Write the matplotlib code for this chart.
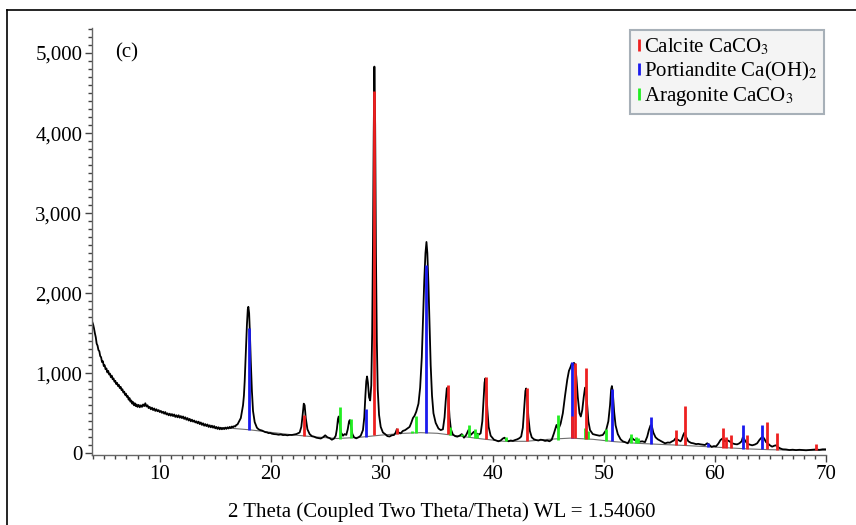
import matplotlib
matplotlib.use("Agg")
import matplotlib.pyplot as plt
from matplotlib.lines import Line2D
from matplotlib.ticker import MultipleLocator, FuncFormatter

plt.rcParams['font.family'] = ['Liberation Serif', 'DejaVu Serif']
plt.rcParams['mathtext.fontset'] = 'stix'

two_theta = [
    3.9, 4.0, 4.08, 4.16, 4.24, 4.32, 4.4, 4.48, 4.56, 4.64, 4.72, 4.8, 4.88, 4.96,
    5.04, 5.12, 5.2, 5.28, 5.36, 5.44, 5.52, 5.6, 5.68, 5.76, 5.84, 5.92, 6.0, 6.08,
    6.16, 6.24, 6.32, 6.4, 6.48, 6.56, 6.64, 6.72, 6.8, 6.88, 6.96, 7.04, 7.12, 7.2,
    7.28, 7.36, 7.44, 7.52, 7.6, 7.68, 7.76, 7.84, 7.92, 8.0, 8.1, 8.2, 8.3, 8.4,
    8.5, 8.6, 8.7, 8.8, 8.9, 9.0, 9.1, 9.2, 9.3, 9.4, 9.5, 9.6, 9.7, 9.8, 9.9, 10.0,
    10.1, 10.2, 10.3, 10.4, 10.5, 10.6, 10.7, 10.8, 10.9, 11.0, 11.1, 11.2, 11.3,
    11.4, 11.5, 11.6, 11.7, 11.8, 11.9, 12.0, 12.1, 12.2, 12.3, 12.4, 12.5, 12.6,
    12.7, 12.8, 12.9, 13.0, 13.1, 13.2, 13.3, 13.4, 13.5, 13.6, 13.7, 13.8, 13.9,
    14.0, 14.1, 14.2, 14.3, 14.4, 14.5, 14.6, 14.7, 14.8, 14.9, 15.0, 15.1, 15.2,
    15.3, 15.4, 15.5, 15.6, 15.7, 15.8, 15.9, 16.0, 16.1, 16.2, 16.3, 16.4, 16.5,
    16.6, 16.7, 16.8, 16.9, 17.0, 17.15, 17.3, 17.4, 17.5, 17.58, 17.65, 17.75,
    17.85, 17.93, 17.98, 18.05, 18.12, 18.2, 18.3, 18.4, 18.55, 18.75, 18.9, 19.05,
    19.2, 19.35, 19.5, 19.65, 19.8, 19.95, 20.1, 20.3, 20.5, 20.7, 20.9, 21.1, 21.3,
    21.5, 21.7, 21.9, 22.1, 22.3, 22.45, 22.6, 22.75, 22.87, 22.97, 23.05, 23.15,
    23.3, 23.5, 23.7, 23.9, 24.1, 24.3, 24.5, 24.7, 24.9, 25.1, 25.3, 25.5, 25.7,
    25.85, 25.95, 26.05, 26.12, 26.2, 26.32, 26.5, 26.65, 26.8, 26.93, 27.05, 27.12,
    27.22, 27.35, 27.5, 27.7, 27.9, 28.1, 28.3, 28.42, 28.52, 28.6, 28.67, 28.75,
    28.85, 28.95, 29.05, 29.13, 29.2, 29.27, 29.33, 29.4, 29.47, 29.55, 29.63, 29.75,
    29.9, 30.1, 30.3, 30.5, 30.7, 30.9, 31.1, 31.25, 31.35, 31.5, 31.7, 31.9, 32.1,
    32.3, 32.5, 32.65, 32.8, 32.95, 33.1, 33.3, 33.45, 33.6, 33.72, 33.82, 33.93,
    34.02, 34.1, 34.2, 34.3, 34.4, 34.52, 34.65, 34.85, 35.1, 35.3, 35.5, 35.65,
    35.75, 35.85, 35.92, 36.0, 36.1, 36.22, 36.4, 36.6, 36.8, 37.0, 37.2, 37.4, 37.6,
    37.8, 38.0, 38.15, 38.3, 38.45, 38.6, 38.75, 38.9, 39.05, 39.15, 39.25, 39.32,
    39.4, 39.5, 39.62, 39.8, 40.1, 40.3, 40.5, 40.7, 40.9, 41.05, 41.2, 41.4, 41.6,
    41.8, 42.0, 42.2, 42.4, 42.55, 42.7, 42.82, 42.93, 43.0, 43.08, 43.2, 43.33,
    43.5, 43.7, 43.9, 44.1, 44.3, 44.5, 44.7, 44.9, 45.1, 45.3, 45.5, 45.73, 45.9,
    46.1, 46.3, 46.5, 46.7, 46.85, 47.0, 47.1, 47.2, 47.3, 47.4, 47.52, 47.65, 47.8,
    47.92, 48.05, 48.18, 48.3, 48.38, 48.48, 48.6, 48.75, 49.0, 49.3, 49.6, 49.9,
    50.2, 50.4, 50.55, 50.65, 50.72, 50.8, 50.92, 51.05, 51.25, 51.5, 51.7, 51.9,
    52.15, 52.45, 52.7, 52.9, 53.2, 53.45, 53.7, 53.9, 54.05, 54.2, 54.3, 54.45,
    54.65, 54.85, 55.05, 55.3, 55.5, 55.75, 55.95, 56.15, 56.3, 56.45, 56.6, 56.9,
    57.0, 57.15, 57.25, 57.38, 57.6, 57.85, 58.05, 58.3, 58.5, 58.7, 58.9, 59.1,
    59.3, 59.45, 59.7, 59.9, 60.1, 60.3, 60.5, 60.7, 60.9, 61.1, 61.3, 61.55, 61.8,
    62.0, 62.2, 62.4, 62.5, 62.6, 62.75, 62.9, 63.1, 63.35, 63.6, 63.8, 64.0, 64.15,
    64.3, 64.45, 64.6, 64.75, 64.95, 65.15, 65.35, 65.5, 65.7, 65.9, 66.1, 66.4,
    66.7, 67.0, 67.3, 67.6, 67.9, 68.2, 68.5, 68.8, 69.1, 69.4, 69.7, 70.0]
counts = [
    1650, 1610, 1560, 1500, 1450, 1370, 1345, 1290, 1275, 1215, 1200, 1140, 1150, 1090,
    1100, 1050, 1060, 1010, 1030, 985, 995, 950, 970, 925, 935, 895, 905, 865,
    880, 840, 855, 815, 830, 790, 800, 760, 770, 730, 745, 705, 715, 670,
    690, 645, 660, 620, 640, 600, 625, 590, 610, 580, 605, 575, 600, 580,
    610, 590, 625, 585, 600, 565, 580, 550, 570, 540, 560, 530, 550, 525, 540, 515,
    530, 505, 520, 495, 515, 485, 500, 475, 495, 470, 490, 465, 485,
    455, 475, 450, 475, 445, 465, 440, 460, 430, 450, 420, 440, 410,
    430, 400, 420, 395, 410, 385, 400, 375, 395, 365, 385, 355, 375,
    345, 365, 340, 360, 330, 350, 325, 345, 320, 340, 312, 330, 305,
    325, 300, 320, 300, 318, 302, 322, 305, 325, 310, 330, 315, 335,
    325, 340, 335, 355, 360, 400, 440, 520, 600, 720, 900, 1250,
    1600, 1800, 1830, 1750, 1500, 1150, 780, 530, 390, 320, 300, 290,
    285, 275, 265, 262, 252, 255, 245, 240, 238, 232, 236, 228, 230,
    225, 230, 229, 235, 240, 250, 260, 330, 480, 620, 600, 440,
    300, 240, 215, 208, 195, 190, 185, 200, 225, 200, 190, 170, 185,
    220, 300, 430, 460, 380, 260, 220, 240, 230, 300, 400, 415,
    350, 240, 200, 187, 200, 220, 290, 450, 720, 900, 960, 880,
    700, 660, 850, 1500, 2600, 4000, 4830, 4100, 2500, 1400, 800, 480,
    330, 260, 240, 215, 210, 225, 229, 260, 300, 260, 250, 280, 290,
    310, 330, 380, 440, 470, 520, 620, 820, 1200, 1700, 2150, 2500,
    2640, 2500, 2100, 1600, 1100, 720, 500, 380, 310, 290, 300, 450,
    650, 810, 820, 680, 450, 300, 235, 215, 208, 220, 240, 195, 230,
    290, 229, 250, 270, 230, 245, 235, 250, 400, 650, 880, 935,
    820, 550, 330, 220, 170, 160, 150, 160, 185, 195, 170, 150, 160,
    155, 166, 175, 190, 210, 320, 550, 780, 810, 700, 450, 280,
    200, 175, 166, 160, 170, 166, 155, 160, 150, 170, 250, 354, 300,
    370, 500, 720, 920, 1030, 1080, 1120, 1100, 1130, 1110, 950, 700, 500,
    460, 540, 700, 820, 820, 620, 400, 290, 240, 229, 220, 229,
    290, 400, 600, 800, 840, 760, 520, 350, 240, 175, 150, 140,
    125, 200, 170, 160, 145, 150, 140, 208, 290, 350, 350, 260,
    200, 175, 160, 140, 125, 135, 133, 150, 160, 187, 175, 150,
    170, 230, 258, 210, 150, 130, 125, 115, 118, 112, 108, 104,
    125, 110, 80, 90, 87, 120, 166, 187, 150, 165, 150, 125, 115,
    112, 125, 150, 195, 185, 150, 125, 110, 100, 110, 125, 166, 190,
    208, 180, 140, 125, 100, 83, 95, 100, 75, 60, 50, 48,
    41, 45, 40, 44, 41, 38, 42, 45, 48, 43, 50, 50]

# fitted background
bg_theta = [15.0, 16.5, 18.0, 19.0, 20.0, 22.0, 24.0, 26.0, 28.0, 30.0, 32.0, 33.5,
            35.0, 37.0, 39.0, 41.0, 43.0, 45.0, 47.0, 49.0, 51.0, 53.0, 55.0, 57.0,
            59.0, 61.0, 63.0, 65.0, 67.0, 70.0]
bg_counts = [320, 312, 295, 279, 262, 230, 205, 185, 200, 228, 250, 258,
             250, 215, 180, 150, 150, 175, 190, 175, 145, 125, 112, 100,
             85, 70, 55, 45, 40, 38]

# reference sticks: position, base, top
calcite_pos = [23.02, 29.33, 31.4, 35.92, 39.35, 43.05, 47.1, 47.42, 48.42, 56.5,
               57.3, 60.7, 61.0, 61.4, 62.9, 64.65, 65.6, 69.1]
calcite_base = [215, 228, 245, 245, 180, 150, 190, 190, 180, 100,
                100, 70, 70, 68, 58, 48, 45, 38]
calcite_top = [480, 4520, 315, 850, 950, 815, 460, 1125, 1070, 290,
               590, 320, 210, 230, 230, 385, 258, 116]

portl_pos = [18.0, 28.6, 34.02, 47.1, 50.72, 54.25, 59.35, 62.55, 64.2]
portl_base = [295, 210, 255, 190, 150, 115, 85, 58, 48]
portl_top = [1560, 554, 2354, 1137, 800, 450, 130, 354, 354]

arag_pos = [26.2, 27.2, 32.75, 33.1, 36.15, 37.2, 37.85, 38.35, 38.55, 41.15,
            45.85, 48.3, 48.55, 50.2, 52.45, 52.9, 53.1]
arag_base = [185, 190, 252, 255, 235, 215, 205, 195, 190, 150,
             170, 182, 180, 150, 130, 126, 125]
arag_top = [583, 425, 280, 460, 330, 240, 354, 300, 260, 200,
            480, 312, 280, 300, 237, 200, 195]

fig = plt.figure(figsize=(8.56, 5.25), dpi=100)
ax = fig.add_axes([92/856, 1-455/525, (826-92)/856, (455-28)/525])

ax.plot(bg_theta, bg_counts, color='#6e6e6e', lw=0.8, zorder=1)
ax.plot(two_theta, counts, color='black', lw=1.3, zorder=2)
# sticks are drawn over the pattern
ax.vlines(arag_pos, arag_base, arag_top, color='#22ee22', lw=2, zorder=3)
ax.vlines(portl_pos, portl_base, portl_top, color='#1a1aee', lw=2, zorder=3)
ax.vlines(calcite_pos, calcite_base, calcite_top, color='#ee2020', lw=2, zorder=3)

ax.set_xlim(3.9, 70)
ax.set_ylim(-21, 5312)
ax.xaxis.set_major_locator(MultipleLocator(10))
ax.xaxis.set_minor_locator(MultipleLocator(1))
ax.yaxis.set_major_locator(MultipleLocator(1000))
ax.yaxis.set_minor_locator(MultipleLocator(100))
ax.yaxis.set_major_formatter(FuncFormatter(lambda v, p: f"{int(v):,}"))

for s in ['top', 'right']:
    ax.spines[s].set_visible(False)
for s in ['left', 'bottom']:
    ax.spines[s].set_color('#666666')
    ax.spines[s].set_linewidth(1.0)
ax.tick_params(which='major', length=5, width=1, color='#444444', labelsize=15, pad=2)
ax.tick_params(which='minor', length=3, width=1, color='#444444')

ax.text(6.0, 5000, "(c)", fontsize=15, va='center', ha='left')

handles = [
    Line2D([], [], marker='|', color='#ee2020', ls='none', markersize=8, markeredgewidth=2),
    Line2D([], [], marker='|', color='#1a1aee', ls='none', markersize=8, markeredgewidth=2),
    Line2D([], [], marker='|', color='#22ee22', ls='none', markersize=8, markeredgewidth=2),
]
labels = ["Calcite CaCO$_3$", "Portiandite Ca(OH)$_2$", "Aragonite CaCO$_3$"]
leg = ax.legend(handles, labels, loc='upper right', bbox_to_anchor=(1.0, 1.0),
                fontsize=15, handlelength=0.3, handletextpad=0.1, borderpad=0.3,
                labelspacing=0.12, fancybox=False, framealpha=1, borderaxespad=0.1)
leg.get_frame().set_facecolor('#f4f4f4')
leg.get_frame().set_edgecolor('#a7b0b8')
leg.get_frame().set_linewidth(1.5)

fig.text(442/856, 1-512/525, "2 Theta (Coupled Two Theta/Theta) WL = 1.54060",
         fontsize=15, ha='center', va='center')

# outer frame (partially cropped in the reference)
fig.add_artist(Line2D([7/856, 1.0], [1-10/525, 1-10/525], color='black', lw=1.2,
                      transform=fig.transFigure))
fig.add_artist(Line2D([7/856, 7/856], [0, 1-10/525], color='black', lw=1.2,
                      transform=fig.transFigure))

fig.savefig("out.png", dpi=100)
